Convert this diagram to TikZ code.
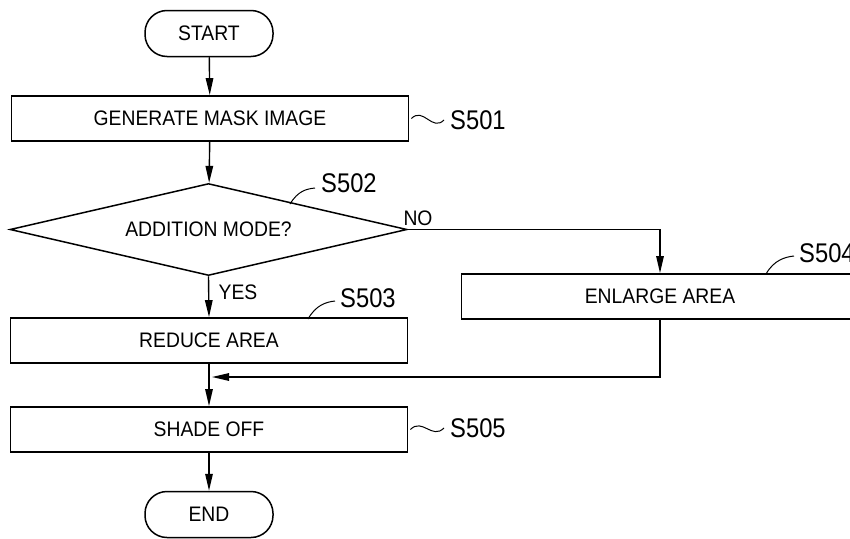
\documentclass[tikz,border=0pt]{standalone}
\usepackage{fontspec}
\setmainfont{Liberation Sans}
\newfontfamily\stepfont[FakeStretch=0.88]{Liberation Sans}
\newfontfamily\boxfont[FakeStretch=0.92]{Liberation Sans}
\usetikzlibrary{arrows.meta,shapes.geometric,positioning}

\tikzset{
  boxtext/.style={font=\boxfont\fontsize{21}{24}\selectfont},
  procbox/.style={draw,line width=1.8pt,boxtext,inner sep=0pt,
    minimum width=397pt,minimum height=45pt},
  terminal/.style={draw,line width=1.5pt,boxtext,inner sep=0pt,
    rounded corners=22pt,minimum width=128pt,minimum height=46pt},
  decision/.style={draw,diamond,line width=1.5pt,boxtext,inner sep=0pt,
    minimum width=397pt,minimum height=92pt,aspect=4.3},
  flow/.style={line width=1.4pt,-{Triangle[length=17pt,width=7.5pt]}},
  leader/.style={line width=1pt},
  steplabel/.style={font=\stepfont\fontsize{27}{30}\selectfont,inner sep=0pt,anchor=west},
  branch/.style={boxtext,inner sep=0pt}
}

\begin{document}
\begin{tikzpicture}[x=1pt,y=-1pt]
  \useasboundingbox (0,0) rectangle (850,538);

  % main column
  \node[terminal] (start) at (209,33.5) {START};
  \node[procbox] (gen) at (210,118.5) {GENERATE MASK IMAGE};
  \node[decision] (dec) at (208.5,229.5) {ADDITION MODE?};
  \node[procbox] (reduce) at (209,340.5) {REDUCE AREA};
  \node[procbox] (enlarge) at (660,296.5) {ENLARGE AREA};
  \node[procbox] (shade) at (209,429.5) {SHADE OFF};
  \node[terminal] (end) at (209,514.5) {END};

  % branch labels
  \node[branch] (no) at (418,218) {NO};
  \node[branch] (yes) at (238,292) {YES};

  % step labels
  \node[steplabel] (s501) at (450,120) {S501};
  \node[steplabel] (s502) at (321,183) {S502};
  \node[steplabel] (s503) at (340,298) {S503};
  \node[steplabel] (s504) at (799,253) {S504};
  \node[steplabel] (s505) at (450,428) {S505};

  \coordinate (join) at (212,377);
  \coordinate (s502foot) at (290,204);
  \coordinate (s503foot) at (308,319);
  \coordinate (s504foot) at (766,274);

  % flow lines
  \draw[flow] (start) -- (gen);
  \draw[flow] (gen) -- (dec);
  \draw[flow] (dec.south) -- (reduce.north);
  \draw[flow] (dec.east) -| (enlarge.north);
  \draw[flow] (reduce) -- (shade);
  \draw[flow] (enlarge.south) |- (join);
  \draw[flow] (shade) -- (end);

  % leaders to step labels
  \draw[leader] ([xshift=2pt]gen.east) .. controls +(12,-12) and +(-12,12) .. ([xshift=-6pt]s501.west);
  \draw[leader] ([xshift=2pt]shade.east) .. controls +(12,-12) and +(-12,12) .. ([xshift=-6pt]s505.west);
  \draw[leader] (s502foot) .. controls +(8,-13) and +(-9,1) .. ([xshift=-6pt,yshift=-5pt]s502.west);
  \draw[leader] (s503foot) .. controls +(8,-14) and +(-9,1) .. ([xshift=-5pt,yshift=-3pt]s503.west);
  \draw[leader] (s504foot) .. controls +(8,-14) and +(-9,1) .. ([xshift=-5pt,yshift=-3pt]s504.west);
\end{tikzpicture}
\end{document}
